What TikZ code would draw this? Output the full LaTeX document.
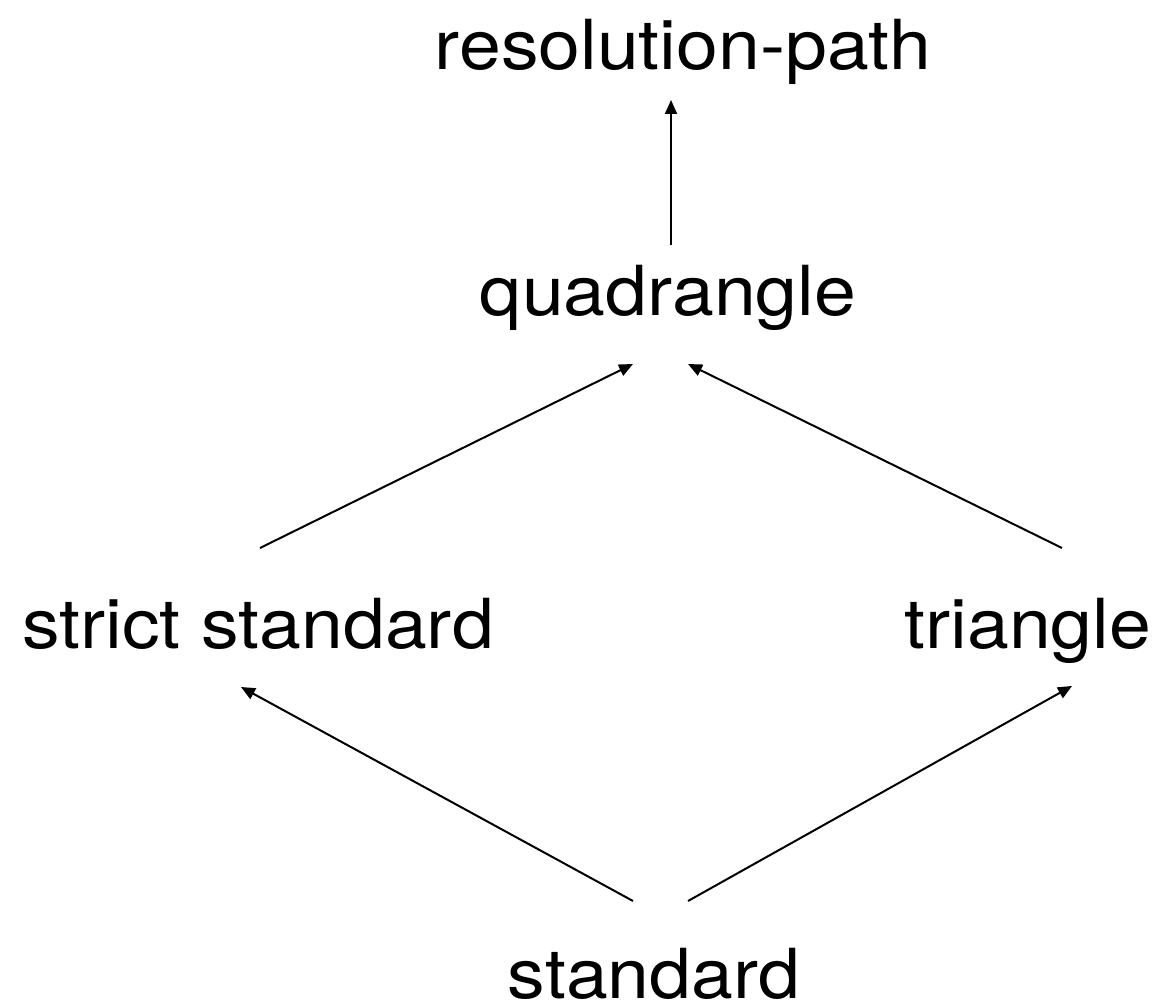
\documentclass[tikz,border=0pt]{standalone}
\usepackage{fontspec}
\setmainfont{TeX Gyre Heros}[FakeStretch=1.09]
\usetikzlibrary{arrows.meta}
\begin{document}
\begin{tikzpicture}[x=1pt,y=-1pt,
  lbl/.style={anchor=base,inner sep=0pt,font=\fontsize{69}{80}\selectfont},
  conn/.style={line width=2pt,-{Triangle[length=14pt,width=12pt]}}]
\useasboundingbox (0,0) rectangle (1161,1003);
\node[lbl] (rp) at (683,70) {resolution-path};
\node[lbl] (qd) at (668,315) {quadrangle};
\node[lbl] (ss) at (258,648) {strict standard};
\node[lbl] (tr) at (1028,648) {triangle};
\node[lbl] (st) at (654,998) {standard};
% connector ends
\coordinate (qdTop) at (671,245);
\coordinate (rpBot) at (671,100);
\coordinate (qdL) at (633,364);
\coordinate (qdR) at (688,364);
\coordinate (ssTop) at (260,548);
\coordinate (trTop) at (1062,548);
\coordinate (ssBot) at (241,687);
\coordinate (trBot) at (1072,686);
\coordinate (stL) at (633,901);
\coordinate (stR) at (688,901);
\draw[conn] (qdTop) -- (rpBot);
\draw[conn] (ssTop) -- (qdL);
\draw[conn] (trTop) -- (qdR);
\draw[conn] (stL) -- (ssBot);
\draw[conn] (stR) -- (trBot);
\end{tikzpicture}
\end{document}
